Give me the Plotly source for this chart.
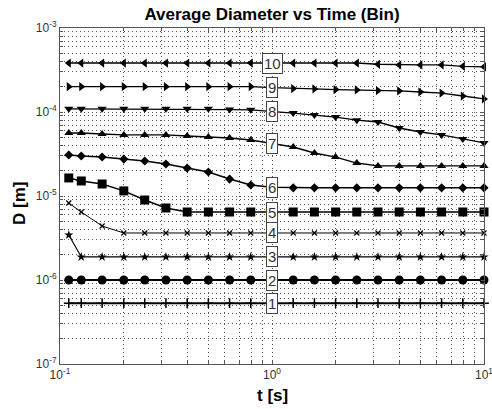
import math
import plotly.graph_objects as go

# ---- data ----
t_values = [0.11, 0.126, 0.158, 0.2, 0.251, 0.316, 0.398, 0.501, 0.631, 0.794, 1.0,
            1.259, 1.585, 1.995, 2.512, 3.162, 3.981, 5.012, 6.31, 7.943, 10.0]

bin1 = [5.3e-7, 5.3e-7, 5.3e-7, 5.3e-7, 5.3e-7, 5.3e-7, 5.3e-7, 5.3e-7, 5.3e-7, 5.3e-7, 5.3e-7,
        5.3e-7, 5.3e-7, 5.3e-7, 5.3e-7, 5.3e-7, 5.3e-7, 5.3e-7, 5.3e-7, 5.3e-7, 5.3e-7]
bin2 = [1.0e-6, 1.0e-6, 1.0e-6, 1.0e-6, 1.0e-6, 1.0e-6, 1.0e-6, 1.0e-6, 1.0e-6, 1.0e-6, 1.0e-6,
        1.0e-6, 1.0e-6, 1.0e-6, 1.0e-6, 1.0e-6, 1.0e-6, 1.0e-6, 1.0e-6, 1.0e-6, 1.0e-6]
bin3 = [3.43e-6, 1.88e-6, 1.88e-6, 1.88e-6, 1.88e-6, 1.88e-6, 1.88e-6, 1.88e-6, 1.88e-6, 1.88e-6, 1.88e-6,
        1.88e-6, 1.88e-6, 1.88e-6, 1.88e-6, 1.88e-6, 1.88e-6, 1.88e-6, 1.88e-6, 1.88e-6, 1.88e-6]
bin4 = [8.26e-6, 6.45e-6, 4.39e-6, 3.63e-6, 3.63e-6, 3.63e-6, 3.63e-6, 3.63e-6, 3.63e-6, 3.63e-6, 3.63e-6,
        3.63e-6, 3.63e-6, 3.63e-6, 3.63e-6, 3.63e-6, 3.63e-6, 3.63e-6, 3.63e-6, 3.63e-6, 3.63e-6]
bin5 = [1.64e-5, 1.51e-5, 1.39e-5, 1.15e-5, 8.96e-6, 7.2e-6, 6.45e-6, 6.45e-6, 6.45e-6, 6.45e-6, 6.45e-6,
        6.45e-6, 6.45e-6, 6.45e-6, 6.45e-6, 6.45e-6, 6.45e-6, 6.45e-6, 6.45e-6, 6.45e-6, 6.45e-6]
bin6 = [3.08e-5, 2.99e-5, 2.91e-5, 2.75e-5, 2.61e-5, 2.4e-5, 2.15e-5, 1.93e-5, 1.59e-5, 1.35e-5, 1.27e-5,
        1.25e-5, 1.25e-5, 1.25e-5, 1.25e-5, 1.25e-5, 1.25e-5, 1.25e-5, 1.25e-5, 1.25e-5, 1.25e-5]
bin7 = [5.62e-5, 5.62e-5, 5.47e-5, 5.33e-5, 5.33e-5, 5.33e-5, 5.18e-5, 5.04e-5, 4.9e-5, 4.64e-5, 4.25e-5,
        3.83e-5, 3.25e-5, 2.91e-5, 2.47e-5, 2.28e-5, 2.28e-5, 2.28e-5, 2.28e-5, 2.28e-5, 2.28e-5]
bin8 = [1.09e-4, 1.09e-4, 1.09e-4, 1.09e-4, 1.09e-4, 1.09e-4, 1.09e-4, 1.09e-4, 1.07e-4, 1.06e-4, 1.02e-4,
        9.7e-5, 9.2e-5, 8.7e-5, 8.0e-5, 7.6e-5, 6.45e-5, 5.78e-5, 5.33e-5, 4.77e-5, 4.28e-5]
bin9 = [2.0e-4, 2.0e-4, 2.0e-4, 2.0e-4, 2.0e-4, 2.0e-4, 2.0e-4, 2.0e-4, 2.0e-4, 2.0e-4, 1.95e-4,
        1.9e-4, 1.88e-4, 1.85e-4, 1.83e-4, 1.8e-4, 1.78e-4, 1.73e-4, 1.68e-4, 1.55e-4, 1.43e-4]
bin10 = [3.83e-4, 3.83e-4, 3.83e-4, 3.83e-4, 3.83e-4, 3.83e-4, 3.83e-4, 3.83e-4, 3.83e-4, 3.83e-4, 3.83e-4,
         3.83e-4, 3.83e-4, 3.83e-4, 3.83e-4, 3.7e-4, 3.63e-4, 3.63e-4, 3.63e-4, 3.5e-4, 3.45e-4]

series = [bin1, bin2, bin3, bin4, bin5, bin6, bin7, bin8, bin9, bin10]
bin_labels = ["1", "2", "3", "4", "5", "6", "7", "8", "9", "10"]
label_t = 1.0

x_tickvals = [0.1, 0.2, 0.3, 0.4, 0.5, 0.6, 0.7, 0.8, 0.9, 1, 2, 3, 4, 5, 6, 7, 8, 9, 10]
x_ticktext = ["10<sup>-1</sup>", "", "", "", "", "", "", "", "", "10<sup>0</sup>",
              "", "", "", "", "", "", "", "", "10<sup>1</sup>"]
y_decades = [1e-7, 1e-6, 1e-5, 1e-4, 1e-3]
y_decade_text = ["10<sup>-7</sup>", "10<sup>-6</sup>", "10<sup>-5</sup>", "10<sup>-4</sup>", "10<sup>-3</sup>"]

# ---- styles ----
FONT = "Liberation Sans, Arial"
styles = [
    dict(symbol="cross-thin-open", size=7, lw=2.0, mlw=1.5),
    dict(symbol="circle", size=9, lw=2.0, mlw=0),
    dict(symbol="star", size=7, lw=1.2, mlw=0),
    dict(symbol="x-thin-open", size=5, lw=1.0, mlw=1.2),
    dict(symbol="square", size=9, lw=1.5, mlw=0),
    dict(symbol="diamond", size=7, lw=1.5, mlw=0),
    dict(symbol="triangle-up", size=8, lw=1.3, mlw=0),
    dict(symbol="triangle-down", size=8, lw=1.3, mlw=0),
    dict(symbol="triangle-right", size=8, lw=1.3, mlw=0),
    dict(symbol="triangle-left", size=8, lw=1.3, mlw=0),
]

fig = go.Figure()
for vals, st in zip(series, styles):
    fig.add_trace(go.Scatter(
        x=t_values, y=vals, mode="lines+markers", cliponaxis=False,
        line=dict(color="black", width=st["lw"]),
        marker=dict(symbol=st["symbol"], size=st["size"], color="black",
                    line=dict(color="black", width=st["mlw"])),
        showlegend=False, hoverinfo="skip"))

annotations = []
for lab, vals in zip(bin_labels, series):
    y_at = vals[t_values.index(label_t)]
    annotations.append(dict(
        x=math.log10(label_t), y=math.log10(y_at), xref="x", yref="y",
        text=lab, showarrow=False,
        font=dict(family=FONT, size=15, color="#333"),
        bgcolor="white", bordercolor="#444", borderwidth=1, borderpad=1))

annotations.append(dict(text="<b>t [s]</b>", xref="paper", yref="paper", x=0.5, y=0,
                        yanchor="middle", yshift=-31, showarrow=False,
                        font=dict(family=FONT, size=17, color="black")))
annotations.append(dict(text="<b>D [m]</b>", xref="paper", yref="paper", x=0, y=0.5,
                        xanchor="center", xshift=-41, yshift=-8, textangle=-90, showarrow=False,
                        font=dict(family=FONT, size=17, color="black")))

grid_common = dict(
    showgrid=True, gridcolor="#555", gridwidth=1, griddash="1px,3px",
    showline=True, linecolor="#555", linewidth=1, mirror="allticks",
    ticks="inside", ticklen=3, tickcolor="#555", zeroline=False,
    ticklabeloverflow="allow", automargin=False,
    tickfont=dict(family=FONT, size=12, color="#333"),
)

fig.update_layout(
    width=492, height=409,
    margin=dict(l=60, r=8, t=28, b=45, autoexpand=False),
    paper_bgcolor="white", plot_bgcolor="white",
    title=dict(text="<b>Average Diameter vs Time (Bin)</b>", x=0.5, xref="paper",
               y=1 - 14 / 409, yref="container", xanchor="center", yanchor="middle",
               font=dict(family=FONT, size=17, color="black")),
    annotations=annotations,
)

fig.update_xaxes(type="log", range=[-1, 1], tickmode="array",
                 tickvals=x_tickvals, ticktext=x_ticktext, **grid_common)

y_tickvals = []
y_ticktext = []
for d, txt in zip(y_decades, y_decade_text):
    y_tickvals.append(d)
    y_ticktext.append(txt)
    if d < 1e-3:
        for m in [2, 3, 4, 5, 6, 7, 8, 9]:
            y_tickvals.append(d * m)
            y_ticktext.append("")

fig.update_yaxes(type="log", range=[-7, -3], tickmode="array",
                 tickvals=y_tickvals, ticktext=y_ticktext, **grid_common)

fig.write_html("out.html")
